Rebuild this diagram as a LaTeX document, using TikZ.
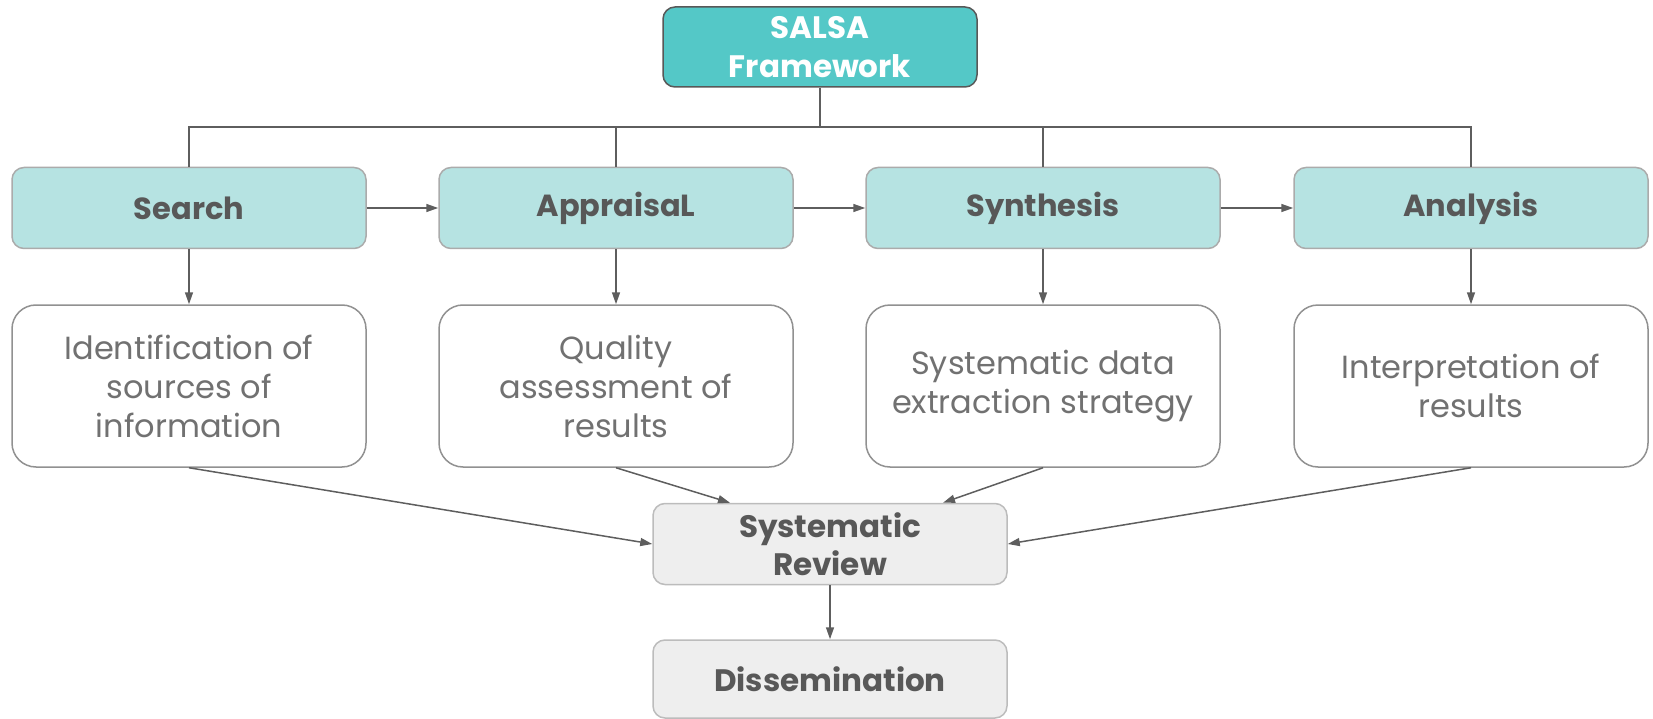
\documentclass[tikz,border=0pt]{standalone}
\usepackage{fontspec}
\setmainfont{Poppins}
\usepackage{tikz}
\usetikzlibrary{arrows.meta, positioning, calc}
\definecolor{salsateal}{HTML}{54C8C7}
\definecolor{steplight}{HTML}{B6E3E2}
\definecolor{revgray}{HTML}{EEEEEE}
\definecolor{edgegray}{HTML}{ABABAB}
\definecolor{inkgray}{HTML}{585858}
\definecolor{linegray}{HTML}{5E5E5E}

\begin{document}
\begin{tikzpicture}[x=1pt, y=-1pt,
    stage/.style={rectangle, rounded corners=12pt, draw=edgegray, line width=1.5pt, fill=steplight, minimum width=354pt, minimum height=81pt, text centered, font=\fontsize{30.5}{36}\selectfont\bfseries, text=inkgray},
    detail/.style={rectangle, rounded corners=24pt, draw=edgegray!85!black, line width=1.5pt, fill=white, minimum width=354pt, minimum height=162pt, align=center, font=\fontsize{32}{39}\selectfont, text=inkgray!85},
    result/.style={stage, fill=revgray, draw=edgegray!80, font=\fontsize{31}{38}\selectfont\bfseries, align=center},
    arrow/.style={-{Triangle[length=12pt, width=8pt]}, line width=1.5pt, draw=linegray},
    link/.style={line width=1.5pt, draw=linegray}
]
\useasboundingbox (0,0) rectangle (1653,719);

% Framework box
\node[stage, fill=salsateal, draw=inkgray, minimum width=314pt, minimum height=80pt, text=white, font=\fontsize{31}{39}\selectfont\bfseries, align=center] (salsa) at (820,47) {SALSA\\Framework};

% Four stages
\node[stage] (search) at (189,208) {Search};
\node[stage] (apprais) at (616,208) {AppraisaL};
\node[stage] (synth) at (1043,208) {Synthesis};
\node[stage] (analys) at (1471,208) {Analysis};

% Stage descriptions
\node[detail] (searchd) at (189,386) {Identification of\\sources of\\information};
\node[detail] (appraisd) at (616,386) {Quality\\assessment of\\results};
\node[detail] (synthd) at (1043,386) {Systematic data\\extraction strategy};
\node[detail] (analysd) at (1471,386) {Interpretation of\\results};

% Outcome
\node[result] (review) at (830,544) {Systematic\\Review};
\node[result, minimum height=78pt] (dissem) at (830,679) {Dissemination};

% Tree from framework
\coordinate (bus) at (820,127);
\draw[link] (salsa) -- (bus);
\draw[link] (search.north) -- (search.north |- bus) -- (analys.north |- bus) -- (analys.north);
\draw[link] (apprais.north) -- (apprais.north |- bus);
\draw[link] (synth.north) -- (synth.north |- bus);

% Arrows
\draw[arrow] (search) -- (apprais);
\draw[arrow] (apprais) -- (synth);
\draw[arrow] (synth) -- (analys);
\foreach \s in {search, apprais, synth, analys}
    \draw[arrow] (\s) -- (\s d);
\draw[arrow] (searchd.south) -- (review.west);
\draw[arrow] (appraisd.south) -- ([xshift=-100pt]review.north);
\draw[arrow] (synthd.south) -- ([xshift=113pt]review.north);
\draw[arrow] (analysd.south) -- (review.east);
\draw[arrow] (review) -- (dissem);
\end{tikzpicture}
\end{document}
